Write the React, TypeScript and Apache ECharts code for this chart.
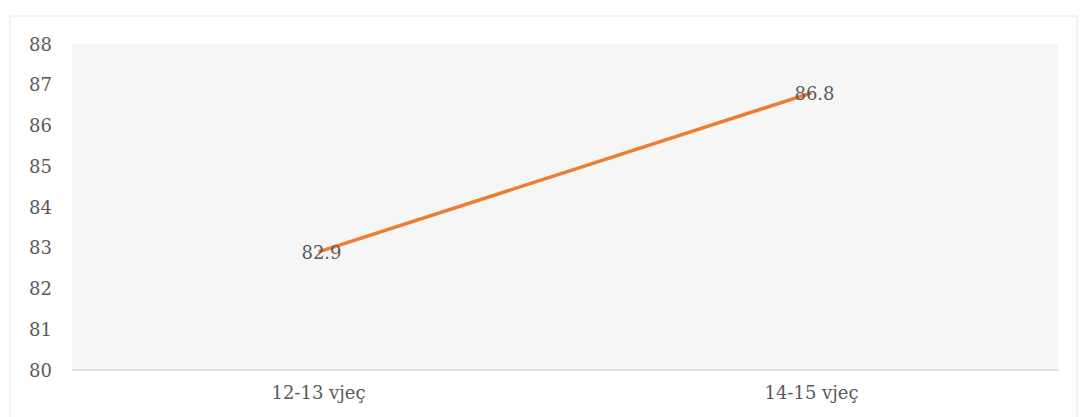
import React, { useEffect, useRef } from "react";
import * as echarts from "echarts";

const categories = ["12-13 vjeç", "14-15 vjeç"];
const values = [82.9, 86.8];
const yMin = 80;
const yMax = 88;

export default function App() {
  const ref = useRef<HTMLDivElement>(null);
  useEffect(() => {
    if (!ref.current) return;
    const chart = echarts.init(ref.current, null, { renderer: "svg" });
    const font = "'DejaVu Serif', 'Liberation Serif', serif";
    chart.setOption({
      animation: false,
      backgroundColor: "#ffffff",
      graphic: [
        {
          type: "rect",
          shape: { x: 10, y: 16, width: 1067, height: 410 },
          style: { fill: "none", stroke: "#e6e6e6", lineWidth: 1 },
          silent: true,
        },
      ],
      grid: {
        left: 72,
        right: 29,
        top: 44,
        bottom: 47,
        show: true,
        backgroundColor: "#f6f6f6",
        borderWidth: 0,
      },
      xAxis: {
        type: "category",
        data: categories,
        boundaryGap: true,
        axisLine: { show: true, lineStyle: { color: "#d9d9d9", width: 1.5 } },
        axisTick: { show: false },
        axisLabel: { color: "#595959", fontFamily: font, fontSize: 18, margin: 13 },
      },
      yAxis: {
        type: "value",
        min: yMin,
        max: yMax,
        interval: 1,
        splitLine: { show: false },
        axisLine: { show: false },
        axisTick: { show: false },
        axisLabel: { color: "#595959", fontFamily: font, fontSize: 18, margin: 20 },
      },
      series: [
        {
          type: "line",
          data: values,
          symbol: "circle",
          symbolSize: 2,
          showSymbol: true,
          itemStyle: { color: "transparent", borderWidth: 0 },
          lineStyle: { color: "#ED7D31", width: 3.5 },
          label: {
            show: true,
            position: "inside",
            offset: [3, 1],
            color: "#595959",
            fontFamily: font,
            fontSize: 18,
          },
          z: 2,
        },
      ],
    });
    return () => chart.dispose();
  }, []);
  return (
    <div
      ref={ref}
      style={{ position: "fixed", left: 0, top: 0, width: 1087, height: 417 }}
    />
  );
}
